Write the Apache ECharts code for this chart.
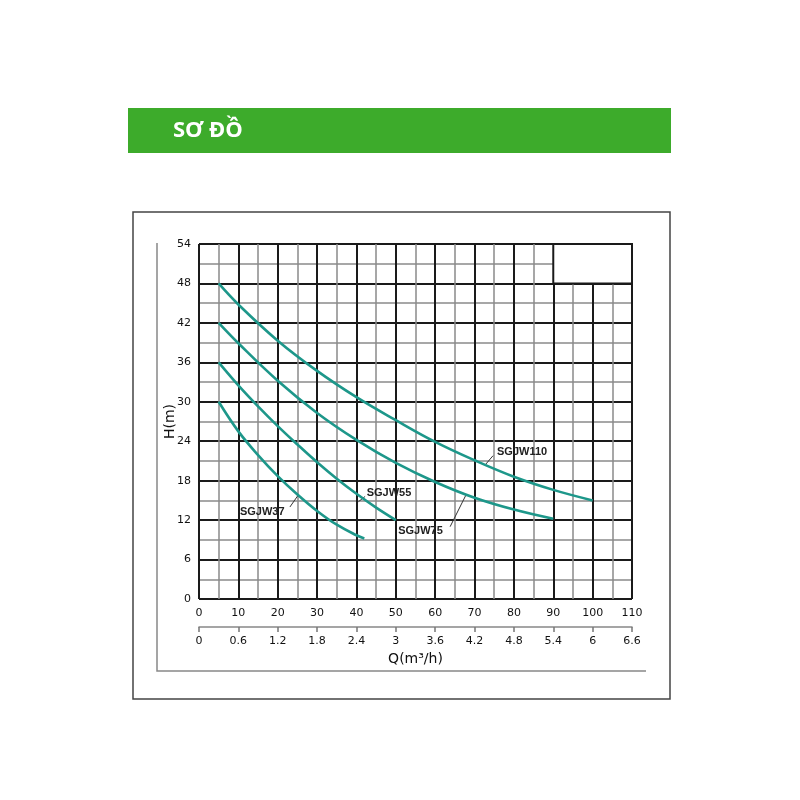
<!DOCTYPE html>
<html><head><meta charset="utf-8">
<script src="https://cdn.jsdelivr.net/npm/echarts@6/dist/echarts.min.js"></script>
<style>html,body{margin:0;padding:0;background:#fff}#c{width:800px;height:800px}</style>
</head><body><div id="c"></div>
<script>
// Flow (L/min) vs head (m) readings
const sgjw37  = [[5,30],[10,25.5],[15,21.9],[20,18.7],[25,15.9],[30,13.4],[35,11.3],[40,9.7],[42,9.2]];
const sgjw55  = [[5,36],[10,32.5],[15,29.3],[20,26.3],[25,23.5],[30,20.8],[35,18.3],[40,16.0],[45,13.9],[50,12]];
const sgjw75  = [[5,42],[10,38.9],[20,33.2],[30,28.3],[40,24.2],[50,20.7],[60,17.8],[70,15.4],[80,13.6],[90,12.2]];
const sgjw110 = [[5,48],[10,44.8],[20,39.3],[30,34.7],[40,30.7],[50,27.2],[60,23.9],[70,21.1],[80,18.6],[90,16.6],[100,15]];
const seriesNames = ['SGJW37','SGJW55','SGJW75','SGJW110'];
// label anchor [Q,H] and leader line ends
const labelPos   = [[10.4,13.3],[42.6,16.2],[50.6,10.3],[75.7,22.4]];
const leaderFrom = [[23.1,14.0],[42.2,15.6],[63.8,11.0],[72.7,20.4]];
const leaderTo   = [[25.2,15.8],[40.5,14.8],[67.8,15.8],[74.7,21.8]];
const blankBox = [[90,48],[110,54]];
const qLpmTicks = {min:0,max:110,interval:10};
const qM3Ticks = {min:0,max:6.6,interval:0.6};
const hTicks = {min:0,max:54,interval:6};

const chart = echarts.init(document.getElementById('c'));
const teal = '#1d978a';
const font = 'DejaVu Sans';
const datasets = [sgjw37, sgjw55, sgjw75, sgjw110];
const series = datasets.map((d,i)=>({
  name: seriesNames[i], type:'line', data:d, smooth:0.4, showSymbol:false, symbol:'none',
  lineStyle:{color:teal,width:2.6}, z:5, clip:false,
  markLine:{silent:true, symbol:'none', lineStyle:{color:'#333',width:1,type:'solid'}, label:{show:false},
    data:[[{coord:leaderFrom[i]},{coord:leaderTo[i]}]]},
  markPoint:{silent:true, symbol:'circle', symbolSize:0,
    data:[{coord:labelPos[i], value:seriesNames[i]}],
    label:{show:true, position:'right', distance:0, formatter:seriesNames[i], color:'#222',
      fontFamily:'Liberation Sans', fontSize:11, fontWeight:'bold'}}
}));
series.push({type:'line', data:[], markArea:{silent:true,
  itemStyle:{color:'#fff', borderColor:'#1a1a1a', borderWidth:2},
  data:[[{coord:blankBox[0]},{coord:blankBox[1]}]]}, z:3});

chart.setOption({
  animation:false,
  backgroundColor:'#fff',
  graphic:[
    {type:'rect', shape:{x:128,y:108,width:543,height:45}, style:{fill:'#3dab2b'}},
    {type:'text', x:173, y:131, style:{text:'SƠ ĐỒ', fill:'#fff', font:'bold 22px "Open Sans"', textVerticalAlign:'middle'}},
    {type:'rect', shape:{x:133,y:212,width:537,height:487}, style:{fill:'none', stroke:'#444', lineWidth:1.5}},
    {type:'polyline', shape:{points:[[157,243],[157,671],[646,671]]}, style:{fill:'none', stroke:'#888', lineWidth:1.5}}
  ],
  grid:{left:199, top:244, width:433, height:355, show:false},
  xAxis:[
    {type:'value', min:qLpmTicks.min, max:qLpmTicks.max, interval:qLpmTicks.interval, position:'bottom',
     axisLine:{show:false}, axisTick:{show:false},
     axisLabel:{margin:9, color:'#111', fontFamily:font, fontSize:11},
     splitLine:{show:true, lineStyle:{color:'#1a1a1a', width:2}},
     minorTick:{show:false, splitNumber:2},
     minorSplitLine:{show:true, lineStyle:{color:'#8a8a8a', width:1.5}}},
    {type:'value', min:qM3Ticks.min, max:qM3Ticks.max, interval:qM3Ticks.interval, position:'bottom', offset:28,
     axisLine:{show:true, lineStyle:{color:'#888', width:1.5}},
     axisTick:{show:true, length:5, lineStyle:{color:'#777', width:1.5}},
     axisLabel:{margin:9, color:'#111', fontFamily:font, fontSize:11,
       formatter:v=>String(+v.toFixed(1))},
     splitLine:{show:false},
     name:'Q(m³/h)', nameLocation:'middle', nameGap:25, nameMoveOverlap:false,
     nameTextStyle:{color:'#111', fontFamily:font, fontSize:14}}
  ],
  yAxis:{type:'value', min:hTicks.min, max:hTicks.max, interval:hTicks.interval,
     axisLine:{show:false}, axisTick:{show:false},
     axisLabel:{margin:8, color:'#111', fontFamily:font, fontSize:11},
     splitLine:{show:true, lineStyle:{color:'#1a1a1a', width:2}},
     minorTick:{show:false, splitNumber:2},
     minorSplitLine:{show:true, lineStyle:{color:'#8a8a8a', width:1.5}},
     name:'H(m)', nameLocation:'middle', nameGap:22, nameMoveOverlap:false,
     nameTextStyle:{color:'#111', fontFamily:font, fontSize:14}},
  series: series
});
</script></body></html>
